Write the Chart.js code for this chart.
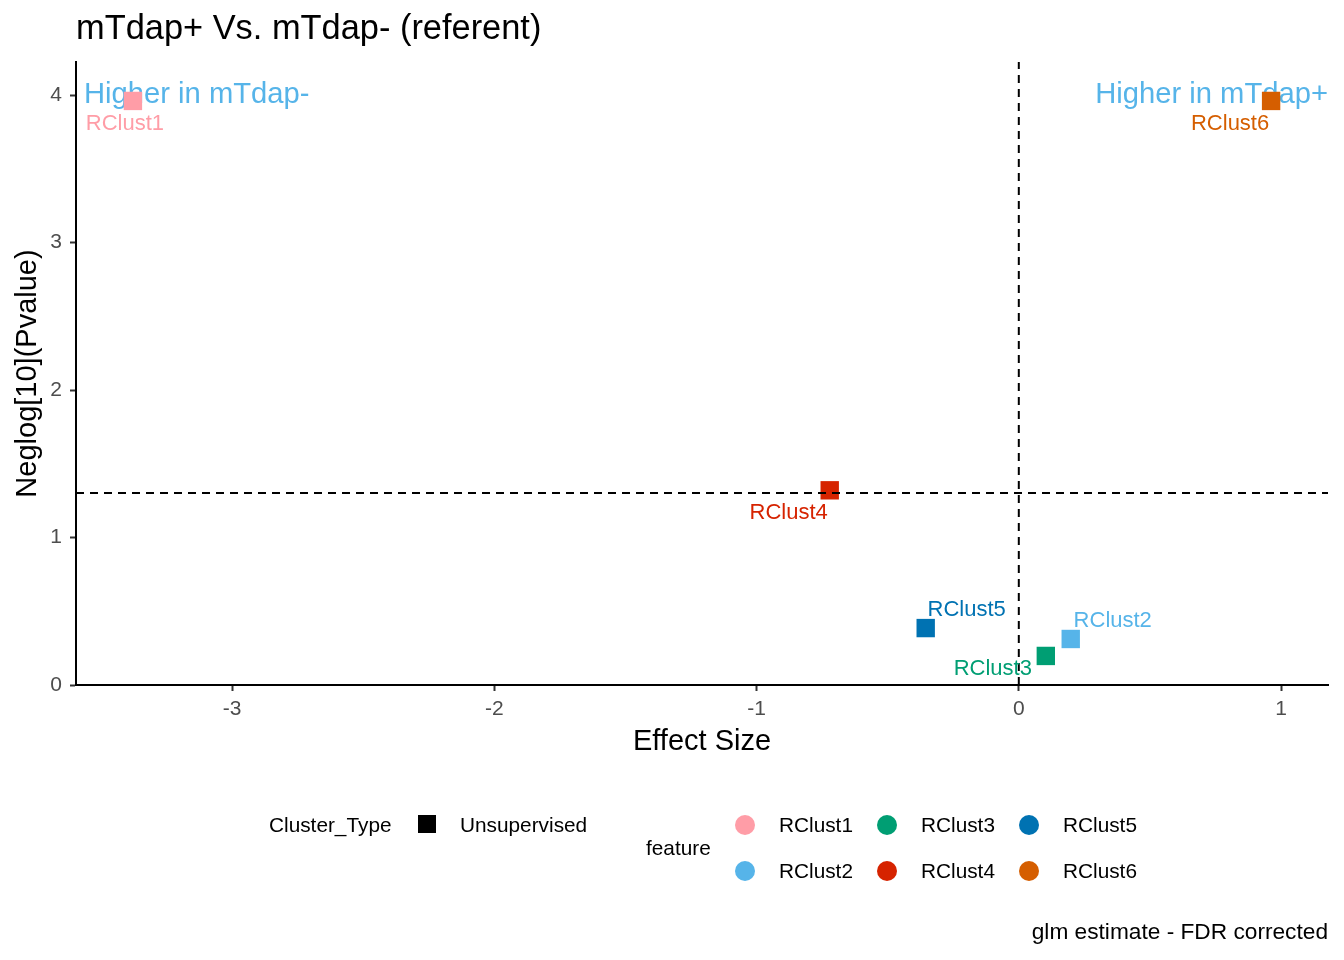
<!DOCTYPE html>
<html>
<head>
<meta charset="utf-8">
<script src="https://cdn.jsdelivr.net/npm/chart.js@4.4.1/dist/chart.umd.min.js"></script>
<style>
  html, body { margin: 0; padding: 0; background: #fff; }
</style>
</head>
<body>
<canvas id="myChart" width="1344" height="960"></canvas>
<script>
// data
const features = ['RClust1', 'RClust2', 'RClust3', 'RClust4', 'RClust5', 'RClust6'];
const effectSize = [-3.378, 0.198, 0.103, -0.721, -0.355, 0.962];
const negLogP = [3.96, 0.312, 0.197, 1.32, 0.386, 3.96];
const featureColors = ['#FF9DA7', '#56B4E9', '#009E73', '#D62300', '#0072B2', '#D55E00'];
const xTicks = [-3, -2, -1, 0, 1];
const yTicks = [0, 1, 2, 3, 4];
const pCutoff = 1.30103; // -log10(0.05)
const xRange = [-3.595, 1.179];
const yRange = [0, 4.224];

// label nudges in pixels (like ggrepel), same order as features
const labelNudge = [[-8, 23], [42, -18], [-53, 13], [-41, 23], [41, -18], [-41, 23]];

const FONT = "'Liberation Sans', Arial, sans-serif";

function txt(ctx, s, x, y, size, color, align) {
    ctx.save();
    ctx.font = size + 'px ' + FONT;
    ctx.fillStyle = color;
    ctx.textAlign = align || 'left';
    ctx.textBaseline = 'middle';
    ctx.fillText(s, x, y);
    ctx.restore();
}

// text layers: annotations under the points, labels over, frame text at the end
const textPlugin = {
    id: 'textPlugin',
    beforeDatasetsDraw(chart) {
        const ctx = chart.ctx;
        const xs = chart.scales.x, ys = chart.scales.y;
        txt(ctx, 'Higher in mTdap-', xs.getPixelForValue(xRange[0]) + 8, ys.getPixelForValue(4), 29.2, '#56B4E9', 'left');
        txt(ctx, 'Higher in mTdap+', xs.getPixelForValue(xRange[1]), ys.getPixelForValue(4), 29.2, '#56B4E9', 'right');
    },
    afterDatasetsDraw(chart) {
        const ctx = chart.ctx;
        const xs = chart.scales.x, ys = chart.scales.y;
        for (let i = 0; i < features.length; i++) {
            const px = xs.getPixelForValue(effectSize[i]) + labelNudge[i][0];
            const py = ys.getPixelForValue(negLogP[i]) + labelNudge[i][1];
            txt(ctx, features[i], px, py, 22, featureColors[i], 'center');
        }
    },
    afterDraw(chart) {
        const ctx = chart.ctx;
        const area = chart.chartArea;
        // title
        txt(ctx, 'mTdap+ Vs. mTdap- (referent)', area.left, 30, 34.4, '#000', 'left');
        // axis titles
        txt(ctx, 'Effect Size', (area.left + area.right) / 2, 742, 29, '#000', 'center');
        ctx.save();
        ctx.translate(28, (area.top + area.bottom) / 2);
        ctx.rotate(-Math.PI / 2);
        txt(ctx, 'Neglog[10](Pvalue)', 0, 0, 29, '#000', 'center');
        ctx.restore();

        // legend: Cluster_Type
        txt(ctx, 'Cluster_Type', 269, 826, 20.8, '#000', 'left');
        ctx.fillStyle = '#000';
        ctx.fillRect(418, 815, 18, 18);
        txt(ctx, 'Unsupervised', 460, 826, 20.8, '#000', 'left');

        // legend: feature (2 rows, filled column-wise)
        txt(ctx, 'feature', 646, 849, 20.8, '#000', 'left');
        for (let i = 0; i < features.length; i++) {
            const col = Math.floor(i / 2), row = i % 2;
            const cx = 745 + col * 142, cy = 825 + row * 46;
            ctx.beginPath();
            ctx.arc(cx, cy, 10, 0, Math.PI * 2);
            ctx.fillStyle = featureColors[i];
            ctx.fill();
            txt(ctx, features[i], cx + 34, cy + 1, 20.8, '#000', 'left');
        }

        // caption
        txt(ctx, 'glm estimate - FDR corrected', area.right, 933, 22.7, '#000', 'right');
    }
};

const ctx = document.getElementById('myChart').getContext('2d');
const chart = new Chart(ctx, {
    type: 'scatter',
    data: {
        datasets: [
            {
                label: 'cutoff',
                type: 'line',
                data: [{ x: xRange[0], y: pCutoff }, { x: xRange[1], y: pCutoff }],
                borderColor: '#000',
                borderWidth: 2,
                borderDash: [8, 6],
                pointRadius: 0,
                fill: false,
                order: 0
            },
            {
                label: 'zero',
                type: 'line',
                data: [{ x: 0, y: yRange[0] }, { x: 0, y: yRange[1] }],
                borderColor: '#000',
                borderWidth: 2,
                borderDash: [8, 6],
                pointRadius: 0,
                fill: false,
                order: 0
            },
            {
                label: 'features',
                data: features.map((f, i) => ({ x: effectSize[i], y: negLogP[i] })),
                pointStyle: 'rect',
                pointRadius: 13,
                pointHoverRadius: 13,
                backgroundColor: featureColors,
                borderWidth: 0,
                order: 1
            }
        ]
    },
    options: {
        responsive: false,
        animation: false,
        layout: { padding: { left: 0, top: 62, right: 16, bottom: 0 } },
        plugins: {
            legend: { display: false },
            tooltip: { enabled: false },
            title: { display: false }
        },
        scales: {
            x: {
                type: 'linear',
                min: xRange[0],
                max: xRange[1],
                afterBuildTicks: s => { s.ticks = xTicks.map(v => ({ value: v })); },
                afterFit: s => { s.height = 275; },
                grid: { drawOnChartArea: false, drawTicks: true, tickLength: 6, tickColor: '#333', tickWidth: 2 },
                border: { display: true, color: '#000', width: 2 },
                ticks: { color: '#4d4d4d', font: { family: FONT, size: 21 }, padding: 6, maxRotation: 0 }
            },
            y: {
                type: 'linear',
                min: yRange[0],
                max: yRange[1],
                afterBuildTicks: s => { s.ticks = yTicks.map(v => ({ value: v })); },
                afterFit: s => { s.width = 76; },
                grid: { drawOnChartArea: false, drawTicks: true, tickLength: 6, tickColor: '#333', tickWidth: 2 },
                border: { display: true, color: '#000', width: 2 },
                ticks: { color: '#4d4d4d', font: { family: FONT, size: 21 }, padding: 8 }
            }
        }
    },
    plugins: [textPlugin]
});
</script>
</body>
</html>
